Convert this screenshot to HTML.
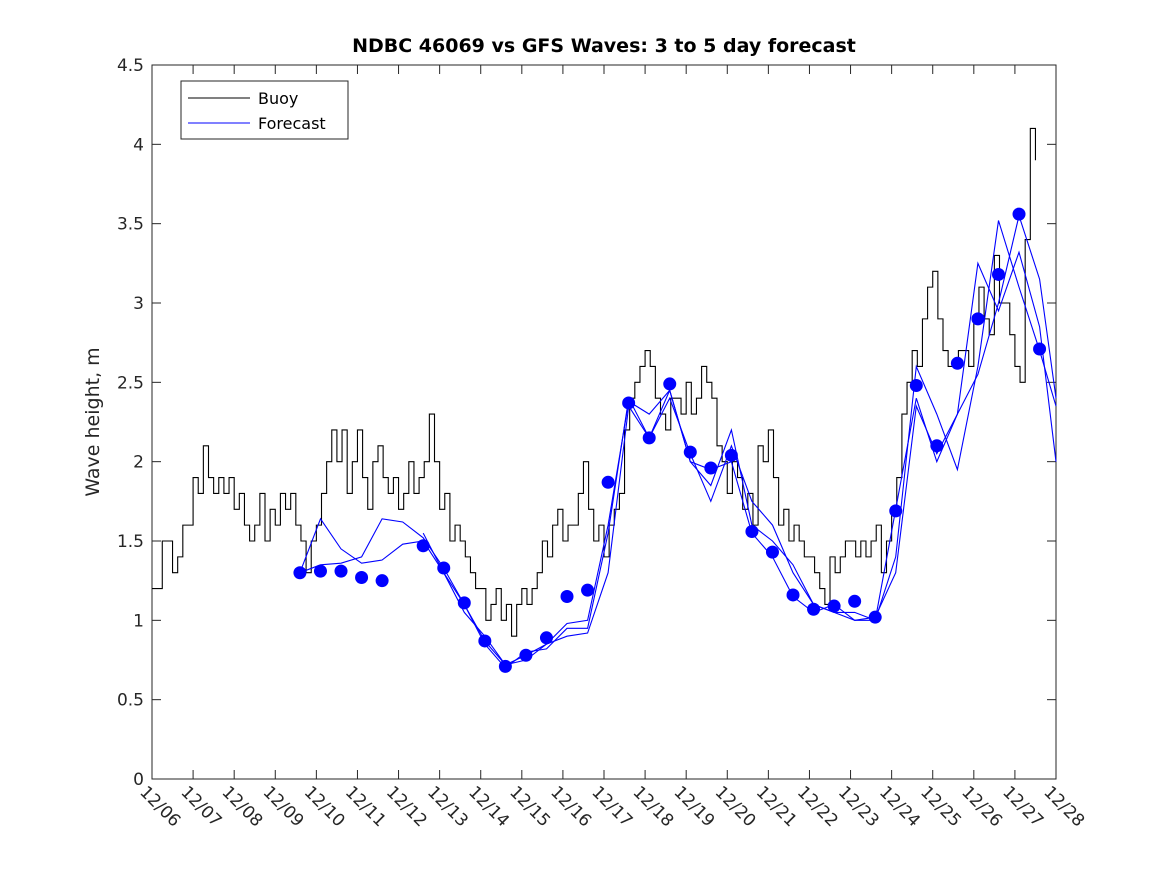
<!DOCTYPE html>
<html><head><meta charset="utf-8"><style>
body{margin:0;background:#fff;}
svg{display:block;font-family:"DejaVu Sans","Liberation Sans",sans-serif;}
</style></head><body>
<svg id="chart" width="1167" height="875">
<rect x="0" y="0" width="1167" height="875" fill="#fff"/>
<text x="604" y="52" text-anchor="middle" font-size="19" font-weight="bold" fill="#000">NDBC 46069 vs GFS Waves: 3 to 5 day forecast</text>
<text transform="translate(99,422) rotate(-90)" text-anchor="middle" font-size="19" fill="#262626">Wave height, m</text>
<g id="plot"></g>
<g id="legend">
<rect x="181" y="81" width="167" height="58" fill="#fff" stroke="#262626" stroke-width="1"/>
<line x1="188" y1="98" x2="250" y2="98" stroke="#000"/>
<text x="258" y="104" font-size="16" fill="#000">Buoy</text>
<line x1="188" y1="123" x2="250" y2="123" stroke="#0000ff"/>
<text x="258" y="129" font-size="16" fill="#000">Forecast</text>
</g>
</svg>
<script>
const xTickLabels=["12/06","12/07","12/08","12/09","12/10","12/11","12/12","12/13","12/14","12/15","12/16","12/17","12/18","12/19","12/20","12/21","12/22","12/23","12/24","12/25","12/26","12/27","12/28"];
const yTickLabels=["0","0.5","1","1.5","2","2.5","3","3.5","4","4.5"];
const buoyStep=0.125;
const buoyValues=[1.2,1.2,1.5,1.5,1.3,1.4,1.6,1.6,1.9,1.8,2.1,1.9,1.8,1.9,1.8,1.9,1.7,1.8,1.6,1.5,1.6,1.8,1.5,1.7,1.6,1.8,1.7,1.8,1.6,1.5,1.3,1.5,1.6,1.8,2.0,2.2,2.0,2.2,1.8,2.0,2.2,1.9,1.7,2.0,2.1,1.9,1.8,1.9,1.7,1.8,2.0,1.8,1.9,2.0,2.3,2.0,1.7,1.8,1.5,1.6,1.5,1.4,1.3,1.2,1.2,1.0,1.1,1.2,1.0,1.1,0.9,1.1,1.2,1.1,1.2,1.3,1.5,1.4,1.6,1.7,1.5,1.6,1.6,1.8,2.0,1.7,1.5,1.6,1.4,1.6,1.7,1.8,2.2,2.4,2.5,2.6,2.7,2.6,2.4,2.3,2.2,2.4,2.4,2.3,2.5,2.3,2.4,2.6,2.5,2.4,2.1,2.0,1.8,2.0,1.9,1.7,1.8,1.6,2.1,2.0,2.2,1.9,1.6,1.7,1.5,1.6,1.5,1.4,1.4,1.3,1.2,1.1,1.4,1.3,1.4,1.5,1.5,1.4,1.5,1.4,1.5,1.6,1.3,1.5,1.7,1.9,2.3,2.5,2.7,2.6,2.9,3.1,3.2,2.9,2.7,2.6,2.6,2.7,2.7,2.6,2.9,3.1,2.9,2.8,3.3,3.0,3.0,2.8,2.6,2.5,3.4,4.1,3.9];
const dotDays=[3.6,4.1,4.6,5.1,5.6,6.6,7.1,7.6,8.1,8.6,9.1,9.6,10.1,10.6,11.1,11.6,12.1,12.6,13.1,13.6,14.1,14.6,15.1,15.6,16.1,16.6,17.1,17.6,18.1,18.6,19.1,19.6,20.1,20.6,21.1,21.6];
const dotValues=[1.3,1.31,1.31,1.27,1.25,1.47,1.33,1.11,0.87,0.71,0.78,0.89,1.15,1.19,1.87,2.37,2.15,2.49,2.06,1.96,2.04,1.56,1.43,1.16,1.07,1.09,1.12,1.02,1.69,2.48,2.10,2.62,2.90,3.18,3.56,2.71];
const lineDays=[3.6,4.1,4.6,5.1,5.6,6.1,6.6,7.1,7.6,8.1,8.6,9.1,9.6,10.1,10.6,11.1,11.6,12.1,12.6,13.1,13.6,14.1,14.6,15.1,15.6,16.1,16.6,17.1,17.6,18.1,18.6,19.1,19.6,20.1,20.6,21.1,21.6,22];
const lineA=[1.3,1.35,1.36,1.4,1.64,1.62,1.52,1.33,1.1,0.87,0.72,0.75,0.85,0.98,1.0,1.6,2.38,2.3,2.45,2.0,1.85,2.2,1.6,1.5,1.35,1.1,1.05,1.05,1.0,1.4,2.6,2.3,1.95,2.6,3.52,3.1,2.7,2.35];
const lineB=[1.3,1.64,1.45,1.36,1.38,1.48,1.5,1.3,1.05,0.9,0.72,0.78,0.85,0.9,0.92,1.3,2.35,2.15,2.4,2.05,1.75,2.1,1.75,1.6,1.3,1.1,1.05,1.0,1.02,1.3,2.35,2.05,2.3,3.25,2.95,3.32,2.85,2.0];
const lineC=[null,null,null,null,null,null,1.55,1.3,1.1,0.85,0.7,0.8,0.82,0.95,0.95,1.55,2.4,2.15,2.45,2.0,1.95,2.0,1.55,1.4,1.15,1.05,1.1,1.0,1.0,1.7,2.4,2.0,2.3,2.55,3.0,3.55,3.15,2.4];

const X0=152,X1=1056,Y0=779,Y1=65;
const xs=d=>X0+(X1-X0)*d/22;
const ys=v=>Y0-(Y0-Y1)*v/4.5;
const NS="http://www.w3.org/2000/svg";
const plot=document.getElementById('plot');
function mk(tag,attrs,parent){const e=document.createElementNS(NS,tag);for(const k in attrs)e.setAttribute(k,attrs[k]);(parent||plot).appendChild(e);return e;}

mk('rect',{x:X0,y:Y1,width:X1-X0,height:Y0-Y1,fill:'#fff',stroke:'#262626','stroke-width':1});
xTickLabels.forEach((l,i)=>{
  const x=xs(i);
  const t=mk('line',{x1:x,y1:Y0,x2:x,y2:Y0-9,stroke:'#262626'});
  
  
  mk('line',{x1:x,y1:Y1,x2:x,y2:Y1+9,stroke:'#262626'});
  const tx=mk('text',{transform:`translate(${x-13},${Y0+14}) rotate(45)`,'font-size':17,fill:'#262626'});
  tx.textContent=l;
  
  
});
yTickLabels.forEach((l,i)=>{
  const y=ys(+l);
  const t=mk('line',{x1:X0,y1:y,x2:X0+9,y2:y,stroke:'#262626'});
  
  
  mk('line',{x1:X1,y1:y,x2:X1-9,y2:y,stroke:'#262626'});
  const tx=mk('text',{x:X0-8,y:y+6,'text-anchor':'end','font-size':17,fill:'#262626'});
  tx.textContent=l;
  
  
});
function path(days,vals,color,name){
  let d='',pen=false;
  days.forEach((dd,i)=>{const v=vals[i];if(v==null){pen=false;return;}d+=(pen?'L':'M')+xs(dd).toFixed(1)+','+ys(v).toFixed(1);pen=true;});
  const p=mk('path',{d:d,fill:'none',stroke:color,'stroke-width':1.1});
  
  
}
(function(){
  let d='';
  buoyValues.forEach((v,i)=>{const x=xs(i*buoyStep),y=ys(v);if(i===0)d='M'+x+','+y;else d+='L'+x+','+ys(buoyValues[i-1])+'L'+x+','+y;});
  const p=mk('path',{d:d,fill:'none',stroke:'#000','stroke-width':1.1});
  
  
})();
path(lineDays,lineA,'#0000ff','forecast-line-a');
path(lineDays,lineB,'#0000ff','forecast-line-b');
path(lineDays,lineC,'#0000ff','forecast-line-c');
dotDays.forEach((dd,i)=>{
  const c=mk('circle',{cx:xs(dd),cy:ys(dotValues[i]),r:6.5,fill:'#0000ff'});
  
  
});
plot.parentNode.appendChild(document.getElementById('legend'));
</script>
</body></html>
